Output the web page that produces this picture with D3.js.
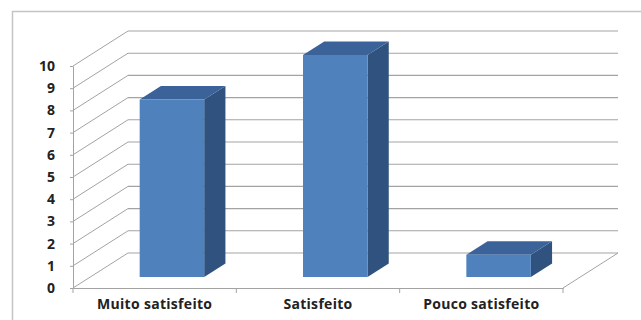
<!DOCTYPE html>
<html>
<head>
<meta charset="utf-8">
<script src="https://cdn.jsdelivr.net/npm/d3@7"></script>
<style>
html,body{margin:0;padding:0;background:#fff;}
svg{display:block;}
</style>
</head>
<body>
<svg id="chart" width="641" height="320"></svg>
<script>
const categories = ["Muito satisfeito", "Satisfeito", "Pouco satisfeito"];
const values = [8, 10, 1];
const tickValues = [0,1,2,3,4,5,6,7,8,9,10];

(function(){
const svg = d3.select("#chart");
const plotLeft = 73, plotRight = 563, plotBottom = 288, plotTop = 66;
const depthX = 55, depthY = -35;       // full floor depth offset
const barF1 = 0.314, barF2 = 0.70;      // bar front/back depth fractions
const barWidthFrac = 0.395;

const x = d3.scaleBand().domain(categories).range([plotLeft, plotRight]).padding(0);
const y = d3.scaleLinear().domain([0, 10]).range([plotBottom, plotTop]);
const depth = d3.scaleLinear().domain([0, 1]).range([0, 1]);
const px = (xv, f) => xv + depthX * depth(f);
const py = (yv, f) => yv + depthY * depth(f);

const grid = "#a3a3a3";

// outer border
svg.append("path").attr("d", "M12.5,320 L12.5,11.5 L641,11.5")
  .attr("fill", "none").attr("stroke", "#c4c4c4").attr("stroke-width", 1.5);

const g = svg.append("g");

// back wall gridlines + left wall diagonals
tickValues.forEach(v => {
  g.append("line")
    .attr("x1", px(plotLeft, 1)).attr("y1", py(y(v), 1))
    .attr("x2", px(plotRight, 1)).attr("y2", py(y(v), 1))
    .attr("stroke", grid).attr("stroke-width", 1.1);
  g.append("line")
    .attr("x1", plotLeft).attr("y1", y(v))
    .attr("x2", px(plotLeft, 1)).attr("y2", py(y(v), 1))
    .attr("stroke", grid).attr("stroke-width", 1);
});

// floor right edge
g.append("line")
  .attr("x1", plotRight).attr("y1", plotBottom)
  .attr("x2", px(plotRight, 1)).attr("y2", py(plotBottom, 1))
  .attr("stroke", grid).attr("stroke-width", 1);

// y axis
const yAxis = d3.axisLeft(y).tickValues(tickValues).tickSize(3).tickSizeOuter(0).tickPadding(15);
const ya = svg.append("g").attr("transform", `translate(${plotLeft},0)`).call(yAxis);
ya.select(".domain").attr("stroke", grid);
ya.selectAll(".tick line").attr("stroke", grid);
ya.selectAll("text").attr("font-family", "'Open Sans', sans-serif").attr("font-weight", "bold")
  .attr("font-size", 14).attr("fill", "#222");

// x axis
const xAxis = d3.axisBottom(x).tickSize(0).tickPadding(11).tickSizeOuter(0);
const xa = svg.append("g").attr("transform", `translate(0,${plotBottom})`).call(xAxis);
xa.select(".domain").attr("stroke", grid);
xa.selectAll("text").attr("font-family", "'Open Sans', sans-serif").attr("font-weight", "bold")
  .attr("font-size", 14).attr("letter-spacing", "0.3px").attr("fill", "#222");
// boundary ticks
const bounds = categories.map(c => x(c)).concat([plotRight]);
xa.selectAll(".btick").data(bounds).enter().append("line")
  .attr("x1", d => d).attr("x2", d => d).attr("y1", 0).attr("y2", 5)
  .attr("stroke", grid);

// bars
const front = "#4f81bd", topC = "#3c6399", side = "#30527f";
const bars = svg.append("g");
categories.forEach((c, i) => {
  const bw = x.bandwidth() * barWidthFrac;
  const x0 = x(c) + (x.bandwidth() - bw) / 2;
  const x1 = x0 + bw;
  const y0 = y(0), yv = y(values[i]);
  const P = (xx, yy, f) => [px(xx, f), py(yy, f)];
  const poly = pts => "M" + pts.map(p => p.join(",")).join("L") + "Z";
  bars.append("path").attr("d", poly([P(x1, y0, barF1), P(x1, y0, barF2), P(x1, yv, barF2), P(x1, yv, barF1)]))
    .attr("fill", side);
  bars.append("path").attr("d", poly([P(x0, yv, barF1), P(x1, yv, barF1), P(x1, yv, barF2), P(x0, yv, barF2)]))
    .attr("fill", topC);
  bars.append("path").attr("d", poly([P(x0, y0, barF1), P(x1, y0, barF1), P(x1, yv, barF1), P(x0, yv, barF1)]))
    .attr("fill", front);
});
})();
</script>
</body>
</html>
